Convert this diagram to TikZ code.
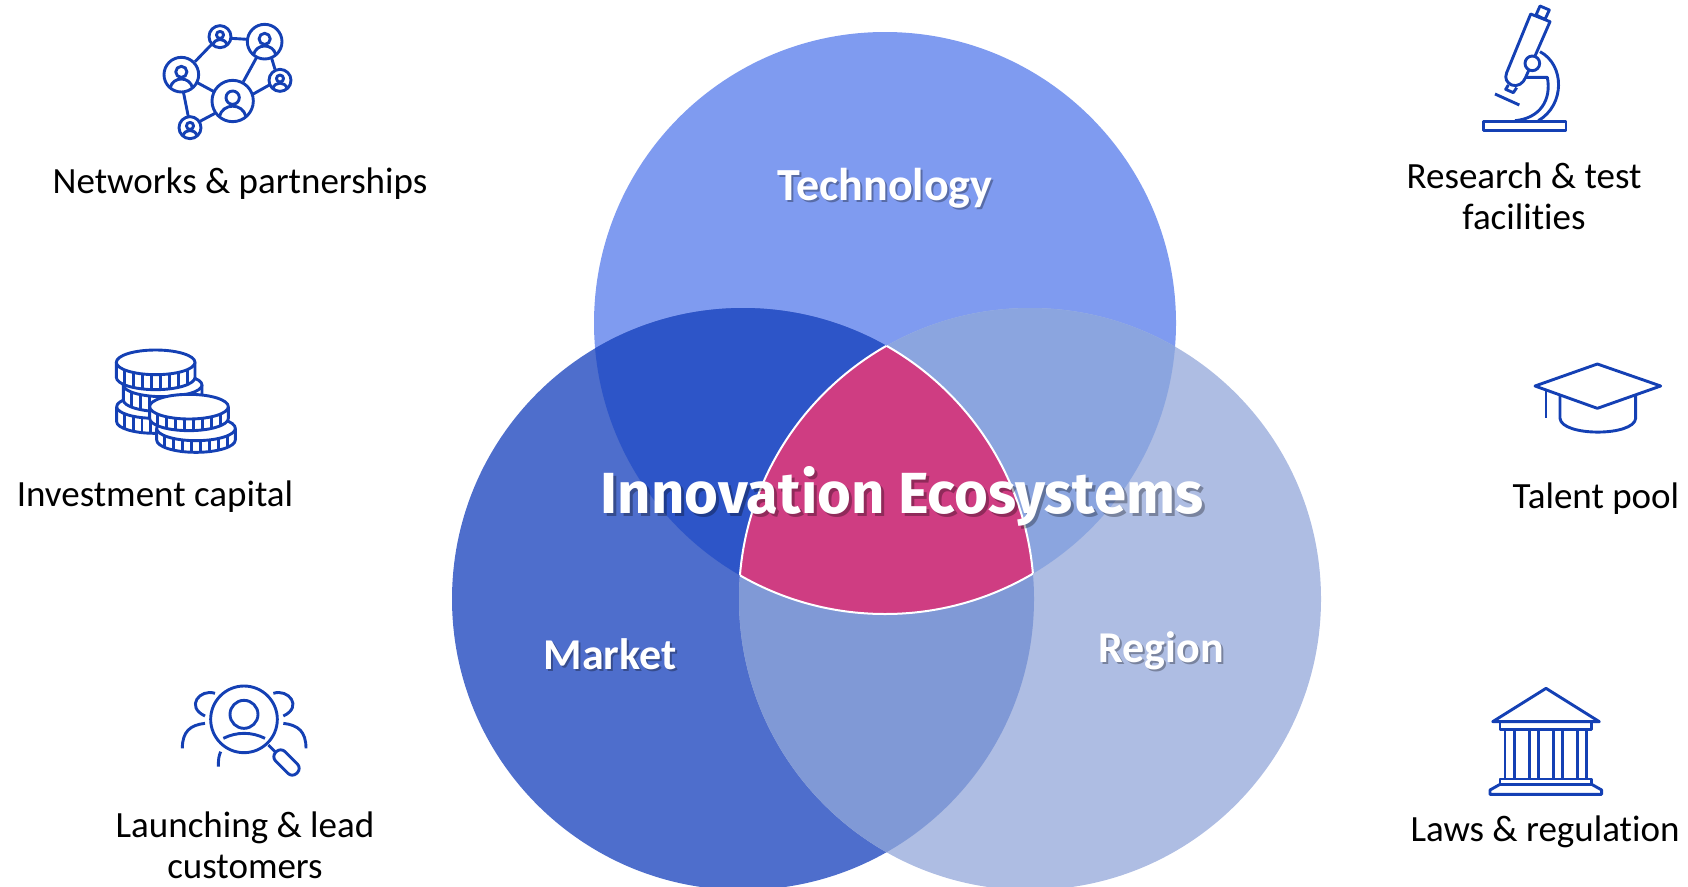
\documentclass[tikz,border=0pt]{standalone}
\usepackage{fontspec}
\setmainfont[Ligatures=NoCommon]{Carlito}
\newfontfamily\titlefont{Fira Sans}
\definecolor{iconblue}{HTML}{1440B4}
\definecolor{ctop}{HTML}{7F9BF0}
\definecolor{cleft}{HTML}{4E6ECC}
\definecolor{cright}{HTML}{AEBDE3}
\definecolor{ctl}{HTML}{2D55C8}
\definecolor{ctr}{HTML}{8BA5DF}
\definecolor{clr}{HTML}{8099D6}
\definecolor{cmid}{HTML}{CF3D82}
\newcommand{\circT}{(885,323) circle [radius=291]}
\newcommand{\circL}{(743,599) circle [radius=291]}
\newcommand{\circR}{(1030,599) circle [radius=291]}
\newcommand{\ringperson}[3]{%
  \begin{scope}[shift={(#1,#2)},scale=#3/62]
    \draw[icon,fill=white] (0,0) circle [radius=62];
    \draw[icon] (0,-10) circle [radius=20];
    \draw[icon] (-40,47) .. controls (-30,5) and (30,5) .. (40,47);
  \end{scope}}
\newcommand{\coin}[5]{%
  \begin{scope}[shift={(#1,#2)}]
    \fill[white] (-#3,0) -- (-#3,#5) .. controls (-#3,#5+#4*.55) and (-#3*.55,#5+#4) .. (0,#5+#4)
      .. controls (#3*.55,#5+#4) and (#3,#5+#4*.55) .. (#3,#5) -- (#3,0) -- cycle;
    \draw[icon] (-#3,0) -- (-#3,#5) .. controls (-#3,#5+#4*.55) and (-#3*.55,#5+#4) .. (0,#5+#4)
      .. controls (#3*.55,#5+#4) and (#3,#5+#4*.55) .. (#3,#5) -- (#3,0);
    \foreach \t in {-.8,-.57,-.34,-.11,.12,.35,.58,.81}{
      \pgfmathsetmacro{\ye}{#4*sqrt(1-\t*\t)}
      \draw[icon] ({\t*#3},\ye) -- ({\t*#3},{\ye+#5});
    }
    \draw[icon,fill=white] (0,0) ellipse [x radius=#3,y radius=#4];
  \end{scope}}
\tikzset{
  icon/.style={draw=iconblue,line width=2.9pt,line join=round},
  lbl/.style={font=\fontsize{37}{41}\selectfont,text=black,inner sep=0pt,align=center},
  vennlbl/.style={font=\bfseries\fontsize{44}{50}\selectfont,text=white,inner sep=0pt},
  vennshadow/.style={font=\bfseries\fontsize{44}{50}\selectfont,text=black,opacity=.3,inner sep=0pt},
  titlelbl/.style={font=\titlefont\bfseries\fontsize{58}{66}\selectfont,text=white,inner sep=0pt},
  titleshadow/.style={font=\titlefont\bfseries\fontsize{58}{66}\selectfont,text=black,opacity=.3,inner sep=0pt},
}
\begin{document}
\begin{tikzpicture}[x=1pt,y=-1pt]
\useasboundingbox (0,0) rectangle (1688,886);
% Venn
\fill[ctop] \circT;
\fill[cleft] \circL;
\fill[cright] \circR;
\begin{scope}\clip \circT; \fill[ctl] \circL; \end{scope}
\begin{scope}\clip \circT; \fill[ctr] \circR; \end{scope}
\begin{scope}\clip \circL; \fill[clr] \circR; \end{scope}
\begin{scope}\clip \circT; \clip \circL; \fill[cmid] \circR; \end{scope}
\begin{scope}\clip \circT; \clip \circL; \draw[white,line width=2pt] \circR; \end{scope}
\begin{scope}\clip \circT; \clip \circR; \draw[white,line width=2pt] \circL; \end{scope}
\begin{scope}\clip \circL; \clip \circR; \draw[white,line width=2pt] \circT; \end{scope}
% Venn labels
\node[vennshadow,font=\bfseries\fontsize{46}{50}\selectfont] (techs) at (887,190) {Technology};
\node[vennlbl,font=\bfseries\fontsize{46}{50}\selectfont] (tech) at (885,188) {Technology};
\node[vennshadow] (mkts) at (612,656) {Market};
\node[vennlbl] (mkt) at (610,654) {Market};
\node[vennshadow] (regs) at (1163,653) {Region};
\node[vennlbl] (reg) at (1161,651) {Region};
\node[titleshadow] (titles) at (905,499) {Innovation Ecosystems};
\node[titlelbl] (title) at (902,496) {Innovation Ecosystems};
% Side labels
\node[lbl] (l1) at (240,184) {Networks \& partnerships};
\node[lbl] (l2) at (155,497) {Investment capital};
\node[lbl] (l3) at (245,845) {Launching \& lead\\customers};
\node[lbl] (r1) at (1524,196) {Research \& test\\facilities};
\node[lbl] (r2) at (1596,499) {Talent pool};
\node[lbl] (r3) at (1545,832) {Laws \& regulation};
% Network icon
\begin{scope}[shift={(140,0)},scale=1/3]
  \draw[icon] (218,130)--(165,185) (273,115)--(322,118) (350,172)--(310,245)
    (395,175)--(405,208) (388,255)--(338,283) (172,248)--(222,275)
    (130,275)--(145,350) (178,365)--(225,340);
  \ringperson{240}{110}{33}
  \ringperson{374}{125}{52}
  \ringperson{124}{224}{52}
  \ringperson{278}{303}{62}
  \ringperson{420}{241}{33}
  \ringperson{150}{383}{33}
\end{scope}
% Coins icon
\begin{scope}[shift={(100,335)},scale=1/3]
  \coin{165}{215}{115}{35}{45}
  \coin{188}{150}{118}{35}{45}
  \coin{167}{82}{118}{37}{45}
  \coin{288}{280}{118}{37}{35}
  \coin{267}{215}{118}{37}{35}
\end{scope}
% Magnifier icon
\begin{scope}[shift={(170,670)},scale=1/3]
  \draw[icon] (222,148) circle [radius=100];
  \draw[icon] (222,133) circle [radius=42];
  \draw[icon] (160,205) .. controls (200,185) and (245,185) .. (285,205);
  \draw[icon] (295,225) -- (315,245);
  \draw[icon,rounded corners=6pt] (332,232) -- (395,295) -- (367,323) -- (304,260) -- cycle;
  \draw[icon] (135,70) .. controls (90,55) and (45,110) .. (105,138);
  \draw[icon] (105,160) .. controls (60,165) and (37,185) .. (37,235);
  \draw[icon] (152,245) .. controls (146,258) and (145,270) .. (145,290);
  \draw[icon] (310,70) .. controls (355,55) and (400,110) .. (340,138);
  \draw[icon] (340,160) .. controls (385,165) and (408,185) .. (408,235);
\end{scope}
% Microscope icon
\begin{scope}[shift={(1460,0)},scale=1/3]
  \draw[icon] (70,365) rectangle (318,392);
  \draw[icon] (240,18) -- (268,30) -- (255,58) -- (228,45) -- cycle;
  \draw[icon] (212,42) -- (270,65) -- (197,232) .. controls (190,250) and (172,262) .. (155,255)
     .. controls (140,248) and (133,235) .. (140,218) -- cycle;
  \draw[icon] (145,255) -- (137,268) -- (160,278) -- (170,263);
  \draw[icon] (105,282) -- (178,315);
  \draw[icon,fill=white] (217,190) circle [radius=22];
  \draw[icon] (240,155) .. controls (315,195) and (315,315) .. (235,362);
  \draw[icon] (197,232) -- (262,232) .. controls (275,300) and (240,355) .. (165,362);
\end{scope}
% Cap icon
\begin{scope}[shift={(1520,350)},scale=1/3]
  \draw[icon] (45,108) -- (232,42) -- (422,108) -- (232,175) -- cycle;
  \draw[icon] (120,135) -- (120,205) .. controls (125,260) and (342,260) .. (347,205) -- (347,135);
  \draw[icon] (78,120) -- (78,205);
\end{scope}
% Building icon
\begin{scope}[shift={(1470,675)},scale=1/3]
  \draw[icon] (68,140) -- (228,40) -- (388,140) -- cycle;
  \draw[icon] (90,140) rectangle (365,163);
  \foreach \cx in {105,133,178,205,250,277,322,350}{
    \draw[icon] (\cx,163) -- (\cx,312);
  }
  \draw[icon] (90,312) rectangle (365,328);
  \draw[icon] (90,328) -- (60,345) -- (60,358) -- (395,358) -- (395,345) -- (365,328);
\end{scope}
\end{tikzpicture}
\end{document}
